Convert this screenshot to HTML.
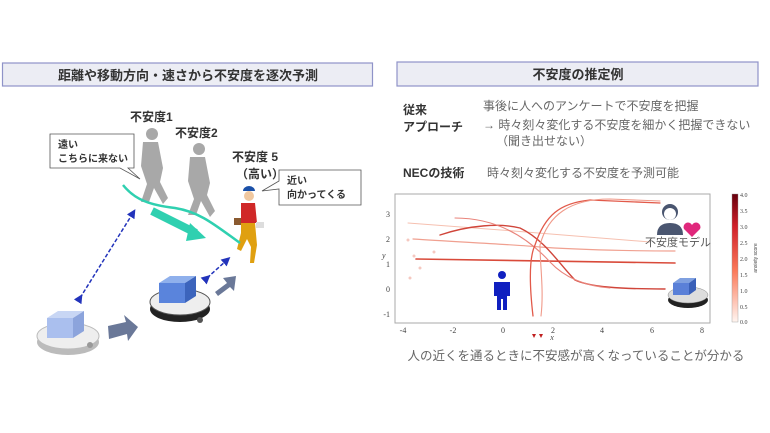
<!DOCTYPE html>
<html><head><meta charset="utf-8"><style>
body{margin:0;background:#fff;}
svg{display:block;font-family:"Liberation Sans","Noto Sans CJK JP",sans-serif;}
</style></head><body>
<svg width="770" height="433" viewBox="0 0 770 433" xmlns="http://www.w3.org/2000/svg">
<defs>
<marker id="bh" markerWidth="6" markerHeight="6" refX="3" refY="3" orient="auto"><path d="M0,0 L6,3 L0,6z" fill="#2233bb"/></marker>
</defs>
<rect x="2.5" y="63" width="370" height="23" fill="#ecedf4" stroke="#8f93c8" stroke-width="1.2"/>
<text x="188" y="80" text-anchor="middle" font-size="13" font-weight="bold" fill="#333">距離や移動方向・速さから不安度を逐次予測</text>
<rect x="397" y="62" width="361" height="24" fill="#ecedf4" stroke="#8f93c8" stroke-width="1.2"/>
<text x="578" y="79" text-anchor="middle" font-size="13" font-weight="bold" fill="#333">不安度の推定例</text>

<g font-size="12" fill="#333" font-weight="bold">
<text x="403" y="114">従来</text>
<text x="403" y="131">アプローチ</text>
<text x="403" y="177">NECの技術</text>
</g>
<g font-size="12" fill="#666">
<text x="483" y="110">事後に人へのアンケートで不安度を把握</text>
<text x="483" y="129">→ 時々刻々変化する不安度を細かく把握できない</text>
<text x="496" y="145">（聞き出せない）</text>
<text x="487" y="177">時々刻々変化する不安度を予測可能</text>
</g>

<rect x="395" y="194" width="315" height="129" fill="#fff" stroke="#aaa"/>
<g font-size="8" fill="#444" font-family="Liberation Serif,serif">
<text x="390" y="217" text-anchor="end">3</text>
<text x="390" y="242" text-anchor="end">2</text>
<text x="390" y="267" text-anchor="end">1</text>
<text x="390" y="292" text-anchor="end">0</text>
<text x="390" y="317" text-anchor="end">-1</text>
<text x="403" y="333" text-anchor="middle">-4</text>
<text x="453" y="333" text-anchor="middle">-2</text>
<text x="503" y="333" text-anchor="middle">0</text>
<text x="553" y="333" text-anchor="middle">2</text>
<text x="602" y="333" text-anchor="middle">4</text>
<text x="652" y="333" text-anchor="middle">6</text>
<text x="702" y="333" text-anchor="middle">8</text>
<text x="552" y="340" text-anchor="middle" font-style="italic">x</text>
<text x="382" y="258" font-style="italic">y</text>
</g>
<g fill="none" stroke-linecap="round">
<path d="M416,259 L675,263" stroke="#d94a3a" stroke-width="1.6"/>
<path d="M413,239 C460,242 520,245 540,247 C580,250 640,251 675,251" stroke="#f0a090" stroke-width="1.2"/>
<path d="M408,223 C480,228 600,238 650,242" stroke="#f6c0b0" stroke-width="1"/>
<path d="M440,235 C470,225 500,223 520,228 C545,240 560,265 575,280 C590,287 620,289 665,289" stroke="#d0453a" stroke-width="1.4"/>
<path d="M455,218 C500,218 530,240 550,262 C565,278 585,286 610,288 C640,289 665,289" stroke="#e9837a" stroke-width="1.1"/>
<path d="M533,316 C530,290 528,260 535,245 C545,215 560,203 590,200 L660,203" stroke="#e25a4a" stroke-width="1.3"/>
<path d="M541,316 C544,290 540,265 540,245 C548,215 570,199 610,199 L660,201" stroke="#f09a8a" stroke-width="1.1"/>
</g>
<g fill="#f5c8c0"><circle cx="408" cy="240" r="1.5"/><circle cx="414" cy="256" r="1.5"/><circle cx="410" cy="278" r="1.5"/><circle cx="434" cy="252" r="1.5"/><circle cx="420" cy="268" r="1.5"/></g>
<path d="M532,334 l4,0 l-2,4z M539,334 l4,0 l-2,4z" fill="#c02020"/>
<g fill="#1020c0">
<circle cx="502" cy="275" r="4"/>
<path d="M494,282 h16 v14 h-3 v14 h-4 v-11 h-2 v11 h-4 v-14 h-3z"/>
</g>
<g>
<circle cx="670" cy="212" r="8" fill="#4a5670"/>
<circle cx="670" cy="214" r="6" fill="#fff"/>
<path d="M657,235 q0,-12 13,-12 q13,0 13,12z" fill="#4a5670"/>
<path d="M692,237 l-8,-8 a4,4 0 0 1 8,-4 a4,4 0 0 1 8,4z" fill="#e0287c"/>
</g>
<text x="645" y="246" font-size="11" fill="#555">不安度モデル</text>
<g>
<ellipse cx="688" cy="300" rx="20" ry="8" fill="#222"/>
<ellipse cx="688" cy="295" rx="20" ry="8" fill="#ddd" stroke="#888" stroke-width="0.5"/>
<path d="M673,283 l7,-5 h16 l-7,5z" fill="#7fa0e0"/>
<rect x="673" y="283" width="16" height="12" fill="#5a80d8"/>
<path d="M689,283 l7,-5 v12 l-7,5z" fill="#3a60b8"/>
</g>
<defs><linearGradient id="cb" x1="0" y1="1" x2="0" y2="0"><stop offset="0" stop-color="#fff5f0"/><stop offset="0.4" stop-color="#fb7a5a"/><stop offset="0.75" stop-color="#d0202a"/><stop offset="1" stop-color="#67000d"/></linearGradient></defs>
<rect x="732" y="194" width="6" height="128" fill="url(#cb)" stroke="#999" stroke-width="0.4"/>
<g font-size="6" fill="#444" font-family="Liberation Serif,serif">
<text x="740" y="197">4.0</text><text x="740" y="213">3.5</text><text x="740" y="229">3.0</text><text x="740" y="245">2.5</text><text x="740" y="261">2.0</text><text x="740" y="277">1.5</text><text x="740" y="293">1.0</text><text x="740" y="309">0.5</text><text x="740" y="324">0.0</text>
</g>
<text x="757" y="258" font-size="5" fill="#444" transform="rotate(-90 757 258)" text-anchor="middle">anxiety score</text>
<text x="576" y="360" text-anchor="middle" font-size="12.5" fill="#666">人の近くを通るときに不安感が高くなっていることが分かる</text>

<!-- LEFT SCENE -->
<g font-size="12" font-weight="bold" fill="#333">
<text x="130" y="121">不安度1</text>
<text x="175" y="137">不安度2</text>
<text x="232" y="161">不安度 5</text>
<text x="236" y="178">（高い）</text>
</g>
<g fill="#a8a8a8">
<circle cx="152" cy="134" r="6"/>
<path d="M143,142 l15,0 l5,26 l-3,14 l8,16 l-5,6 l-9,-16 l-5,14 l-8,0 l6,-18 l-6,-18z"/>
<circle cx="199" cy="149" r="6"/>
<path d="M190,157 l15,0 l5,26 l-3,12 l8,16 l-5,6 l-9,-16 l-5,14 l-8,0 l6,-16 l-6,-18z"/>
</g>
<circle cx="249" cy="196" r="5" fill="#f0c8a0"/>
<path d="M243,191 a6,5 0 0 1 12,0z" fill="#1a50a8"/>
<path d="M241,203 h14 l2,20 h-16z" fill="#d02828"/>
<path d="M241,223 h14 l2,22 l-3,18 h-4 l1,-16 l-4,-8 l-6,12 l-4,-2 l4,-16z" fill="#e0a010"/>
<rect x="234" y="218" width="7" height="7" fill="#8a5a30"/>
<rect x="256" y="222" width="8" height="6" fill="#ddd"/>
<path d="M123,185 C135,200 150,205 175,208 C200,212 215,225 240,243" fill="none" stroke="#2fd0b0" stroke-width="2.5"/>
<path d="M152,211 L196,233" stroke="#2fd0b0" stroke-width="8"/>
<path d="M190,223 L206,238 L186,241z" fill="#2fd0b0"/>
<path d="M50,134 h84 v34 h-6 l12,11 l-20,-11 h-70z" fill="#fff" stroke="#555" stroke-width="0.8"/>
<text x="58" y="148" font-size="10" font-weight="bold" fill="#333">遠い</text>
<text x="58" y="162" font-size="10" font-weight="bold" fill="#333">こちらに来ない</text>
<path d="M279,170 h82 v35 h-82 v-16 l-17,2 l17,-10z" fill="#fff" stroke="#555" stroke-width="0.8"/>
<text x="287" y="184" font-size="10" font-weight="bold" fill="#333">近い</text>
<text x="287" y="198" font-size="10" font-weight="bold" fill="#333">向かってくる</text>
<line x1="80" y1="298" x2="133" y2="213" stroke="#2233bb" stroke-width="1.5" stroke-dasharray="4,2" marker-start="url(#bh)" marker-end="url(#bh)"/>
<line x1="207" y1="278" x2="227" y2="260" stroke="#2233bb" stroke-width="1.5" stroke-dasharray="4,2" marker-start="url(#bh)" marker-end="url(#bh)"/>
<g>
<ellipse cx="68" cy="342" rx="31" ry="13" fill="#bbb"/>
<ellipse cx="68" cy="336" rx="31" ry="13" fill="#eee" stroke="#bbb"/>
<path d="M47,318 l11,-7 h26 l-11,7z" fill="#c8d6f4"/>
<rect x="47" y="318" width="26" height="20" fill="#aabfee"/>
<path d="M73,318 l11,-7 v20 l-11,7z" fill="#8ca4dc"/>
<circle cx="90" cy="345" r="3" fill="#999"/>
</g>
<g>
<ellipse cx="180" cy="309" rx="30" ry="13" fill="#222"/>
<ellipse cx="180" cy="302" rx="30" ry="13" fill="#eee" stroke="#555"/>
<path d="M159,283 l11,-7 h26 l-11,7z" fill="#8fb0ec"/>
<rect x="159" y="283" width="26" height="20" fill="#5a84dc"/>
<path d="M185,283 l11,-7 v20 l-11,7z" fill="#3c64bc"/>
<circle cx="200" cy="320" r="3" fill="#555"/>
</g>
<path d="M108,326 l18,-4 l-2,-7 l14,12 l-10,14 l-1,-7 l-18,5z" fill="#6a7898"/>
<path d="M215,292 l12,-9 l-4,-5 l13,-2 l-2,15 l-4,-4 l-12,9z" fill="#6a7898"/>
</svg>
</body></html>
